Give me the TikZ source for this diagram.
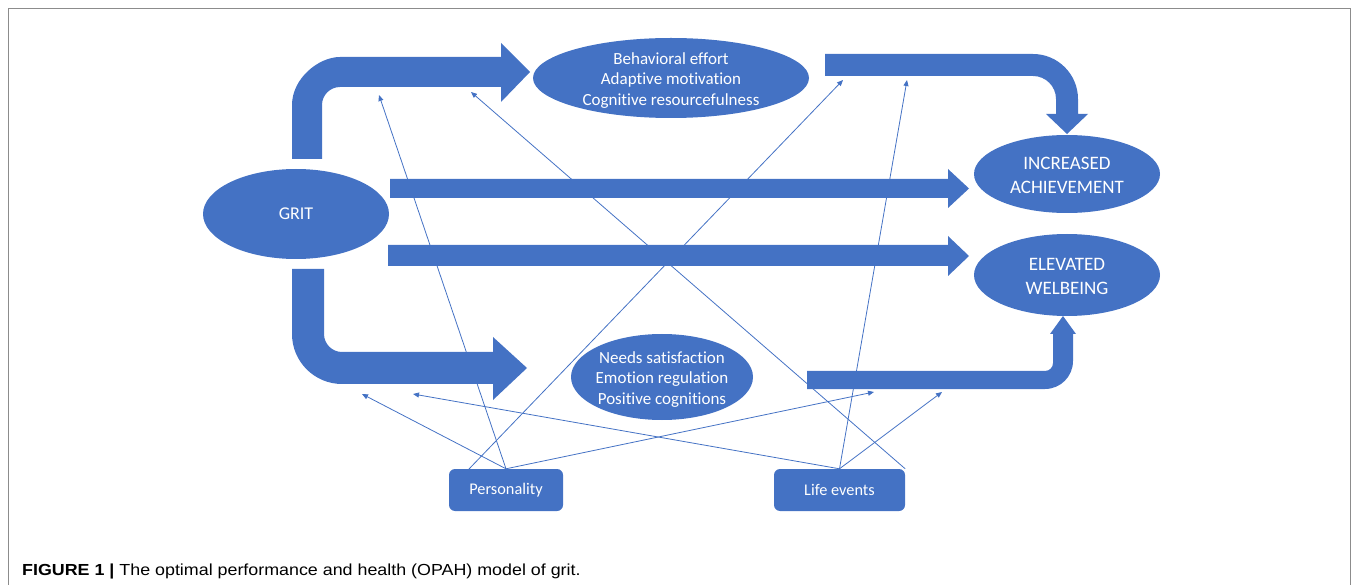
\documentclass[tikz,border=0pt]{standalone}
\usepackage{fontspec}
\setmainfont{Carlito}[Ligatures=NoCommon]
\newfontfamily\capfont{Liberation Sans}
\usetikzlibrary{arrows.meta,shapes.geometric}
\definecolor{obl}{HTML}{4472C4}
\definecolor{frm}{HTML}{8C8C8C}
\begin{document}
\begin{tikzpicture}[x=1pt,y=-1pt,
  big/.style={fill=obl, draw=none},
  ell/.style={ellipse, fill=obl, draw=none, inner sep=0pt},
  txt/.style={text=white, align=center, inner sep=0pt, font=\fontsize{17}{20.5}\selectfont},
  captxt/.style={text=white, align=center, inner sep=0pt, font=\fontsize{19}{24}\selectfont},
  srcbox/.style={rectangle, rounded corners=6pt, fill=obl, draw=none, text=white, inner sep=0pt, font=\fontsize{16.3}{19}\selectfont},
  infl/.style={draw=obl, line width=0.8pt, -{Triangle[length=6pt,width=5pt]}}
]
\useasboundingbox (0,0) rectangle (1358,585);
% frame
\draw[frm, line width=1pt] (8.5,585) -- (8.5,8.5) -- (1350,8.5) -- (1350,585);

% source boxes
\node[srcbox, minimum width=114pt, minimum height=42pt] (pers) at (506,490) {Personality};
\node[srcbox, minimum width=131pt, minimum height=42pt] (life) at (839.5,490) {Life events};

% end points of influence arrows
\coordinate (pA) at (379,95);
\coordinate (pB) at (843,80);
\coordinate (pC) at (362,394);
\coordinate (pD) at (874,392);
\coordinate (lE) at (413,394);
\coordinate (lF) at (942,392);
\coordinate (lG) at (907,80);
\coordinate (lH) at (471,92);
\coordinate (persL) at (469,469);

% thin influence arrows (behind big arrows)
\draw[infl] (pers.north) -- (pA);
\draw[infl] (persL) -- (pB);
\draw[infl] (pers.north) -- (pC);
\draw[infl] (pers.north) -- (pD);
\draw[infl] (life.north) -- (lE);
\draw[infl] (life.north) -- (lF);
\draw[infl] (life.north) -- (lG);
\draw[infl] (life.north east) -- (lH);

% ellipses
\node[ell, minimum width=186pt, minimum height=90pt] (grit) at (296,214) {};
\node[captxt, font=\fontsize{18}{24}\selectfont] (gritt) at (296,214) {GRIT};
\node[ell, minimum width=276pt, minimum height=80pt] (med1) at (671,78) {};
\node[txt] (med1t) at (671,80.5) {Behavioral effort\\Adaptive motivation\\Cognitive resourcefulness};
\node[ell, minimum width=182pt, minimum height=86pt] (med2) at (662,377) {};
\node[txt] (med2t) at (662,379.5) {Needs satisfaction\\Emotion regulation\\Positive cognitions};
\node[ell, minimum width=186pt, minimum height=78pt] (ach) at (1067,174) {};
\node[captxt] (acht) at (1067,175) {INCREASED\\ACHIEVEMENT};
\node[ell, minimum width=186pt, minimum height=82pt] (wel) at (1067,275) {};
\node[captxt] (welt) at (1067,276) {ELEVATED\\WELBEING};

% big block arrows
% top-left bent arrow: GRIT -> mediators 1
\fill[big] (292,159) -- (292,105) .. controls (292,78.5) and (318.5,57) .. (340,57)
  -- (501,57) -- (501,43) -- (530,72) -- (501,102) -- (501,87) -- (340,87)
  .. controls (330.1,87) and (322,95.1) .. (322,105) -- (322,159) -- cycle;
% bottom-left bent arrow: GRIT -> mediators 2
\fill[big] (292,269) -- (292,334) .. controls (292,361.6) and (314.4,384) .. (342,384)
  -- (493,384) -- (493,400) -- (527,368) -- (493,337) -- (493,352) -- (342,352)
  .. controls (332.1,352) and (324,343.9) .. (324,334) -- (324,269) -- cycle;
% top-right bent arrow: mediators 1 -> achievement
\fill[big] (825,54) -- (1033,54) .. controls (1057.8,54) and (1078,74.2) .. (1078,99)
  -- (1078,114) -- (1088,114) -- (1067,134) -- (1046,114) -- (1056,114) -- (1056,99)
  .. controls (1056,86.3) and (1045.7,76) .. (1033,76) -- (825,76) -- cycle;
% bottom-right bent arrow: mediators 2 -> welbeing
\fill[big] (807,371) -- (1045,371) .. controls (1049.4,371) and (1053,367.4) .. (1053,363)
  -- (1053,334) -- (1050,334) -- (1063,316) -- (1076,334) -- (1073,334) -- (1073,361)
  .. controls (1073,376.5) and (1060.5,389) .. (1045,389) -- (807,389) -- cycle;
% straight arrows
\fill[big] (390,179) -- (948,179) -- (948,169) -- (969,188.5) -- (948,208) -- (948,198) -- (390,198) -- cycle;
\fill[big] (388,245) -- (948,245) -- (948,236) -- (969,256) -- (948,276) -- (948,266) -- (388,266) -- cycle;

% caption
\node[anchor=base west, inner sep=0pt, font=\capfont\fontsize{16}{19}\selectfont] (cap) at (22,575)
  {\scalebox{1.116}[1]{\textbf{FIGURE 1 |} The optimal performance and health (OPAH) model of grit.}};
\end{tikzpicture}
\end{document}
